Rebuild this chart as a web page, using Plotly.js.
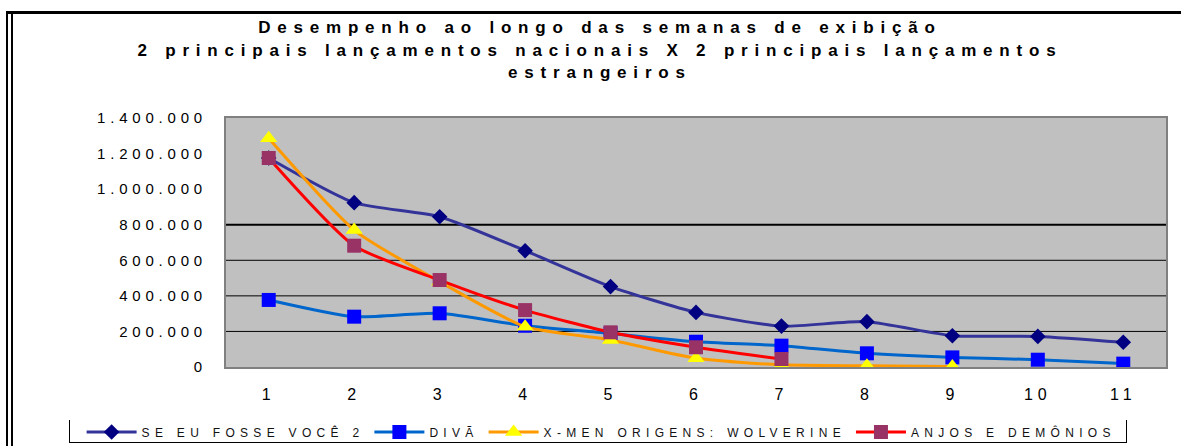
<!DOCTYPE html>
<html>
<head>
<meta charset="utf-8">
<script src="https://cdn.plot.ly/plotly-3.0.1.min.js"></script>
<style>
  body { margin: 0; background: #fff; }
  #wrap { position: relative; width: 1181px; height: 446px; }
  #chart { position: absolute; left: 0; top: 0; width: 1181px; height: 446px; }
  .frame-top { position: absolute; left: 7px; top: 11px; width: 1174px; height: 0; border-top: 3px solid #000; }
  .frame-left { position: absolute; left: 6px; top: 11px; width: 3px; height: 435px; border-left: 2px solid #000; border-right: 2px solid #000; }
  .legend-box { position: absolute; left: 69px; top: 420px; width: 1056px; height: 22px; border: 1px solid #000; border-top: none; pointer-events: none; }
  .gtitle { letter-spacing: 6.8px; }
  .ytick text { letter-spacing: 4.8px; }
  .xtick text { letter-spacing: 5px; }
  .legendtext { letter-spacing: 5.3px; }
</style>
</head>
<body>
<div id="wrap">
  <div id="chart"></div>
  <div class="frame-top"></div>
  <div class="frame-left"></div>
  <div class="legend-box"></div>
</div>
<script>
// semanas de exibicao
var weeks = ['1', '2', '3', '4', '5', '6', '7', '8', '9', '10', '11'];

var seEuFosseVoce2 = [1175000, 924000, 845000, 654000, 452000, 307000, 230000, 255000, 176000, 172000, 139000];
var diva = [377000, 283000, 302000, 232000, 189000, 142000, 120000, 77000, 54000, 41000, 19000];
var xmenWolverine = [1286000, 770000, 480000, 227000, 152000, 49000, 12000, 7000, 3000, null, null];
var anjosDemonios = [1175000, 682000, 489000, 320000, 195000, 111000, 45000, null, null, null, null];

var yTicks = [0, 200000, 400000, 600000, 800000, 1000000, 1200000, 1400000];
var yLabels = ['0', '200.000', '400.000', '600.000', '800.000', '1.000.000', '1.200.000', '1.400.000'];
var gridValues = [200000, 400000, 600000, 800000];

var traces = [
  {
    x: weeks, y: seEuFosseVoce2, name: 'SE EU FOSSE VOCÊ 2', mode: 'lines+markers',
    line: { color: '#333399', width: 3, shape: 'spline', smoothing: 0.6 },
    marker: { symbol: 'diamond', size: 12, color: '#000080' }
  },
  {
    x: weeks, y: diva, name: 'DIVÃ', mode: 'lines+markers',
    line: { color: '#0066CC', width: 3, shape: 'spline', smoothing: 0.6 },
    marker: { symbol: 'square', size: 14, color: '#0000FF' }
  },
  {
    x: weeks, y: xmenWolverine, name: 'X-MEN ORIGENS: WOLVERINE', mode: 'lines+markers',
    line: { color: '#FF9900', width: 3, shape: 'spline', smoothing: 0.6 },
    marker: { symbol: 'triangle-up', size: 15, color: '#FFFF00' }
  },
  {
    x: weeks, y: anjosDemonios, name: 'ANJOS E DEMÔNIOS', mode: 'lines+markers',
    line: { color: '#FF0000', width: 3, shape: 'spline', smoothing: 0.6 },
    marker: { symbol: 'square', size: 14, color: '#993366' }
  }
];

var shapes = gridValues.map(v => ({
  type: 'line', xref: 'x domain', x0: 0, x1: 1, yref: 'y', y0: v, y1: v,
  layer: 'below', line: { color: '#000', width: v === 800000 ? 2 : 1 }
}));

var layout = {
  width: 1181, height: 446,
  margin: { l: 226, r: 15, t: 118, b: 79, autoexpand: false },
  paper_bgcolor: '#fff',
  plot_bgcolor: '#C0C0C0',
  font: { family: 'Liberation Sans, Arial, sans-serif', color: '#000' },
  title: {
    text: '<b>Desempenho ao longo das semanas de exibição<br>2 principais lançamentos nacionais X 2 principais lançamentos<br>estrangeiros</b>',
    font: { size: 17, color: '#000', weight: 'bold' },
    x: 0.508, xanchor: 'center', y: 0.925, yanchor: 'top'
  },
  xaxis: {
    type: 'category', range: [-0.5, 10.5],
    showgrid: false, zeroline: false,
    showline: true, mirror: true, linecolor: '#808080', linewidth: 2,
    ticks: '', ticklabelstandoff: 12,
    tickfont: { size: 16 }
  },
  yaxis: {
    range: [0, 1400000], tickvals: yTicks, ticktext: yLabels,
    showgrid: false, zeroline: false,
    showline: true, mirror: true, linecolor: '#808080', linewidth: 2,
    ticks: '', ticklabelstandoff: 14,
    tickfont: { size: 15 }
  },
  shapes: shapes,
  showlegend: true,
  legend: {
    orientation: 'h', x: -0.1536, xanchor: 'left', y: -0.261, yanchor: 'middle',
    itemwidth: 50, font: { size: 12, color: '#111' },
    bgcolor: 'rgba(0,0,0,0)', borderwidth: 0
  }
};

Plotly.newPlot('chart', traces, layout, { displayModeBar: false, staticPlot: true });
</script>
</body>
</html>
